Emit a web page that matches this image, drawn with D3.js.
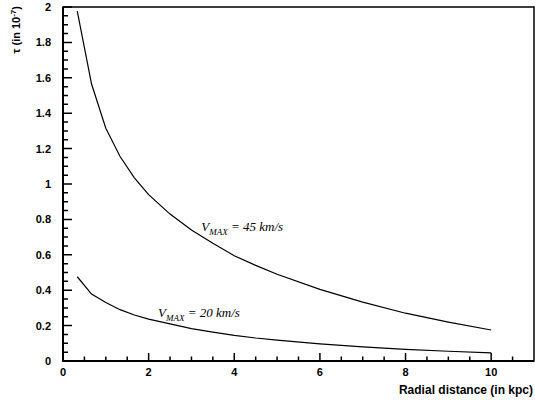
<!DOCTYPE html>
<html><head><meta charset="utf-8">
<script src="https://cdn.jsdelivr.net/npm/d3@7"></script>
<style>body{margin:0;background:#fff}svg{display:block}</style>
</head><body>
<script>
const xValues = [0.333,0.667,1.0,1.333,1.667,2.0,2.5,3.0,3.5,4.0,4.5,5.0,6.0,7.0,8.0,9.0,10.0];
const tau45 = [1.977,1.565,1.315,1.155,1.035,0.94,0.83,0.74,0.665,0.595,0.54,0.49,0.405,0.333,0.27,0.22,0.175];
const tau20 = [0.476,0.378,0.33,0.29,0.26,0.237,0.21,0.183,0.163,0.145,0.13,0.118,0.097,0.08,0.066,0.055,0.046];
const xMajorTicks = [0,2,4,6,8,10];
const xMinorTicks = [0.5,1,1.5,2.5,3,3.5,4.5,5,5.5,6.5,7,7.5,8.5,9,9.5,10.5];
const yMajorTicks = [0,0.2,0.4,0.6,0.8,1,1.2,1.4,1.6,1.8,2];
const yMinorTicks = [0.05,0.1,0.15,0.25,0.3,0.35,0.45,0.5,0.55,0.65,0.7,0.75,0.85,0.9,0.95,1.05,1.1,1.15,1.25,1.3,1.35,1.45,1.5,1.55,1.65,1.7,1.75,1.85,1.9,1.95];
const seriesLabels = ["45 km/s","20 km/s"];

const W=535,H=403;
const svg=d3.select("body").append("svg").attr("width",W).attr("height",H);
const x=d3.scaleLinear().domain([0,11]).range([63,534]);
const y=d3.scaleLinear().domain([0,2]).range([361,7]);
const font="Liberation Sans, Arial, sans-serif";

// ticks as one path
const p=d3.path();
xMajorTicks.forEach(d=>{p.moveTo(x(d),y(0));p.lineTo(x(d),y(0)-8);});
xMinorTicks.forEach(d=>{p.moveTo(x(d),y(0));p.lineTo(x(d),y(0)-4.5);});
yMajorTicks.forEach(d=>{p.moveTo(x(0),y(d));p.lineTo(x(0)+9,y(d));});
yMinorTicks.forEach(d=>{p.moveTo(x(0),y(d));p.lineTo(x(0)+5,y(d));});
svg.append("path").attr("d",p.toString()).attr("fill","none").attr("stroke","#000").attr("stroke-width",1.5);

// frame
svg.append("rect").attr("x",x(0)).attr("y",y(2)).attr("width",x(11)-x(0)).attr("height",y(0)-y(2))
  .attr("fill","none").attr("stroke","#000").attr("stroke-width",1.5);
svg.append("path").attr("d",`M${x(0)},${y(2)}V${y(0)}H${x(11)}`).attr("fill","none").attr("stroke","#000").attr("stroke-width",2);

// tick labels
svg.append("g").selectAll("text").data(xMajorTicks).join("text")
  .attr("x",d=>x(d)).attr("y",376).attr("text-anchor","middle")
  .attr("font-family",font).attr("font-weight","bold").attr("font-size","11px").text(d=>d);
svg.append("g").selectAll("text").data(yMajorTicks).join("text")
  .attr("x",51).attr("y",d=>y(d)).attr("dy","0.36em").attr("text-anchor","end")
  .attr("font-family",font).attr("font-weight","bold").attr("font-size","11px").text(d=>d3.format("")(+d.toFixed(1)));

// curves
const line=d3.line().x((d,i)=>x(xValues[i])).y(d=>y(d));
[tau45,tau20].forEach(s=>{
  svg.append("path").attr("d",line(s)).attr("fill","none").attr("stroke","#000").attr("stroke-width",1.2);
});

// curve labels
function vlabel(px,py,txt){
  const t=svg.append("text").attr("x",px).attr("y",py)
    .attr("font-family","Liberation Serif, Times New Roman, serif").attr("font-style","italic")
    .attr("font-size","13px").attr("fill","#000");
  t.append("tspan").text("V");
  t.append("tspan").attr("font-size","9px").attr("dy",4).text("MAX");
  t.append("tspan").attr("dy",-4).text(" = "+txt);
}
vlabel(x(3.23),y(0.735),seriesLabels[0]);
vlabel(x(2.22),y(0.25),seriesLabels[1]);

// axis titles
svg.append("text").attr("x",533).attr("y",394).attr("text-anchor","end")
  .attr("font-family",font).attr("font-weight","bold").attr("font-size","12px").text("Radial distance (in kpc)");
const yt=svg.append("text").attr("transform","translate(20,6) rotate(-90)").attr("text-anchor","end")
  .attr("font-family",font).attr("font-weight","bold").attr("font-size","11px");
yt.append("tspan").text("τ (in 10");
yt.append("tspan").attr("font-size","8px").attr("dy",-4).text("-7");
yt.append("tspan").attr("dy",4).text(")");
</script>
</body></html>
